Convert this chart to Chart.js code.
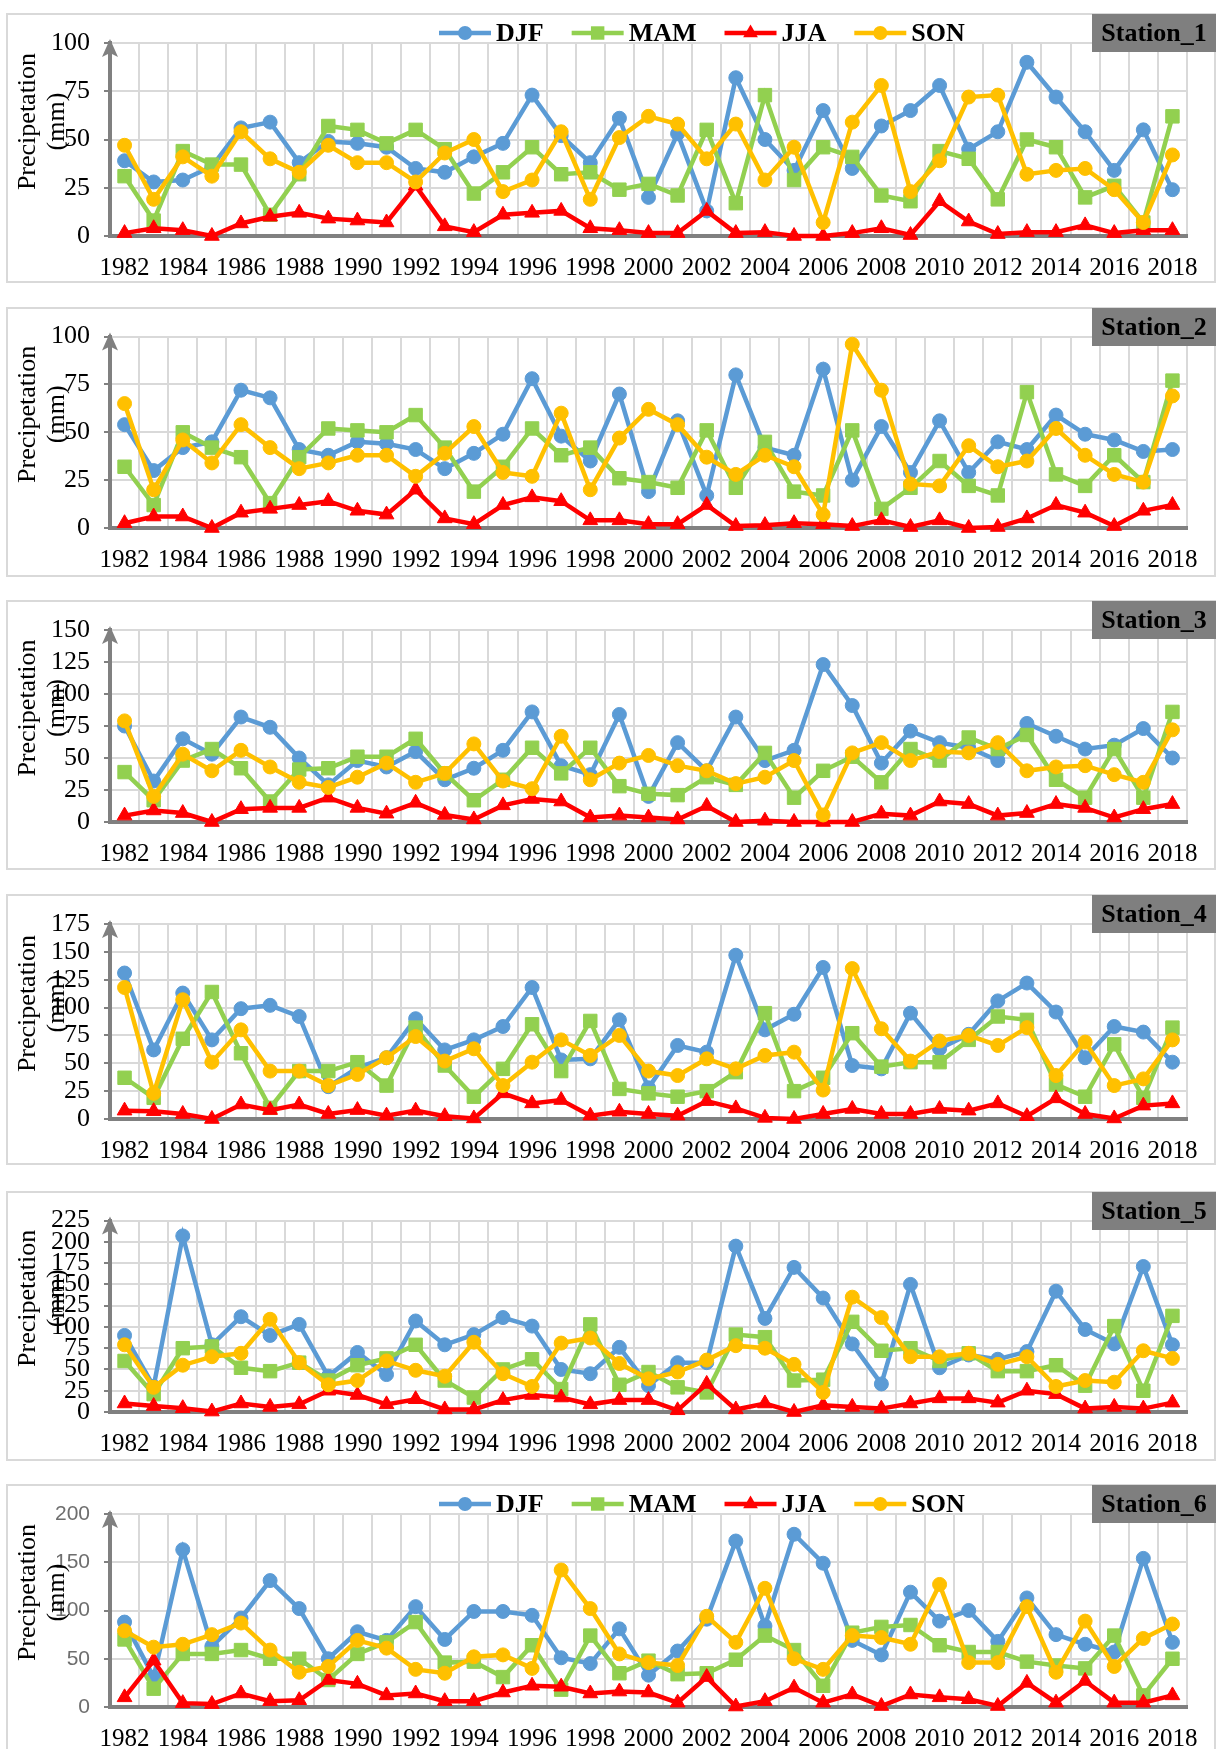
<!DOCTYPE html>
<html lang="en">
<head>
<meta charset="utf-8">
<title>Seasonal precipitation by station, 1982–2018</title>
<script src="https://cdn.jsdelivr.net/npm/chart.js@4.4.1/dist/chart.umd.min.js"></script>
<style>
  html, body { margin: 0; padding: 0; background: #fff; }
  body { position: relative; width: 1217px; height: 1749px; overflow: hidden; }
  .frame { position: absolute; left: 6px; width: 1210px; box-sizing: border-box; border: 2px solid #d9d9d9; }
  canvas.panel { position: absolute; left: 6px; }
</style>
</head>
<body>
<script>
// ---------- data ----------
const years = ['1982','1983','1984','1985','1986','1987','1988','1989','1990','1991',
  '1992','1993','1994','1995','1996','1997','1998','1999','2000','2001','2002','2003',
  '2004','2005','2006','2007','2008','2009','2010','2011','2012','2013','2014','2015',
  '2016','2017','2018'];
const seasons = ['DJF', 'MAM', 'JJA', 'SON'];
const stationNames = ['Station_1', 'Station_2', 'Station_3', 'Station_4', 'Station_5', 'Station_6'];
const yAxisMax = [100, 100, 150, 175, 225, 200];
const yAxisStep = [25, 25, 25, 25, 25, 50];

// Station_1 (mm)
const st1DJF = [39,28,29,36,56,59,38,49,48,46,35,33,41,48,73,52,38,61,20,53,13,82,50,34,65,35,57,65,78,45,54,90,72,54,34,55,24];
const st1MAM = [31,8,44,37,37,11,32,57,55,48,55,45,22,33,46,32,33,24,27,21,55,17,73,29,46,41,21,18,44,40,19,50,46,20,26,7,62];
const st1JJA = [1.5,4,3,0,6.5,10,12,9,8,7,26,5,2,11,12,13,4,3,1.5,1.5,13,1.5,2,0,0,1.5,4,0.5,18,7.5,1,2,2,5.5,1.5,3,3];
const st1SON = [47,19,41,31,54,40,33,47,38,38,28,43,50,23,29,54,19,51,62,58,40,58,29,46,7,59,78,23,39,72,73,32,34,35,24,7,42];

// Station_2 (mm)
const st2DJF = [54,30,42,45,72,68,41,38,45,44,41,31,39,49,78,48,35,70,19,56,17,80,42,38,83,25,53,29,56,29,45,41,59,49,46,40,41];
const st2MAM = [32,12,50,42,37,13,37,52,51,50,59,42,19,32,52,38,42,26,24,21,51,21,45,19,17,51,10,21,35,22,17,71,28,22,38,24,77];
const st2JJA = [2.5,6,6,0,8,10,12,14,9,7,20,5,2,12,16,14,4,4,2,2,12,1,1.5,2.5,2,1,4,0.5,4,0,0.5,5,12,8,1,9,12];
const st2SON = [65,20,46,34,54,42,31,34,38,38,27,39,53,29,27,60,20,47,62,54,37,28,38,32,7,96,72,23,22,43,32,35,52,38,28,24,69];

// Station_3 (mm)
const st3DJF = [75,32,65,53,82,74,50,29,48,43,55,33,42,56,86,44,37,84,20,62,40,82,48,56,123,91,46,71,62,58,48,77,67,57,60,73,50];
const st3MAM = [39,17,48,57,42,16,41,42,51,51,65,38,17,33,58,38,58,28,22,21,35,29,54,19,40,51,31,57,48,66,57,68,33,19,57,19,86];
const st3JJA = [5,9,7,0,10,11,11,19,11,6.5,15,5.5,2,13,18,16,3.5,5,3.5,2,12.5,0,1,0,0,0,6.5,5,16,14,5,7,14,11,3.5,10,14];
const st3SON = [79,20,53,40,56,43,31,27,35,46,31,38,61,32,26,67,33,46,52,44,40,30,35,48,5.5,54,62,48,55,54,62,40,43,44,37,31,72];

// Station_4 (mm)
const st4DJF = [131,62,113,71,99,102,92,29,46,55,90,62,71,83,118,53,54,89,28,66,60,147,80,94,136,48,45,95,63,76,106,122,96,55,83,78,51];
const st4MAM = [37,19,72,114,59,10,43,43,51,30,82,48,20,45,85,43,88,27,23,20,25,42,95,25,37,77,47,51,51,71,92,89,31,20,67,19,82];
const st4JJA = [7.5,7,4.5,0,13,8,13,4.5,8,3,7.5,2.5,0.5,23,14,17,3,6.5,4.5,3,16,9.5,1,0,4.5,9,4.5,4.5,9,7.5,14,2.5,18.5,4.5,0.5,12,14];
const st4SON = [118,23,107,51,80,43,43,30,40,55,74,52,63,30,51,71,57,75,43,39,54,45,57,60,26,135,81,52,70,75,66,82,39,69,30,36,71];

// Station_5 (mm)
const st5DJF = [90,30,207,79,112,90,103,42,70,44,107,79,91,111,101,50,45,76,31,58,58,195,110,170,134,80,33,150,52,67,62,71,142,97,80,171,79];
const st5MAM = [60,21,75,77,52,48,58,37,55,63,79,37,17,50,62,27,103,32,47,29,23,91,88,37,38,106,72,75,60,69,48,48,55,31,101,25,113];
const st5JJA = [10,7,4.5,0.5,10,6,9,25,20,9,15,3,3,14,20,17,9,14,14,2,33,3,10,0,8,6,4,10,16,16,11,25,21,4,6,4,11];
const st5SON = [79,29,55,65,69,109,58,32,37,60,49,42,82,45,30,81,87,57,39,47,61,78,75,56,23,135,111,65,65,69,56,65,30,37,35,72,63];

// Station_6 (mm)
const st6DJF = [88,31,163,63,92,131,102,50,78,69,104,70,99,99,95,51,45,81,33,58,91,172,84,179,149,69,54,119,89,100,68,113,75,65,57,154,67];
const st6MAM = [70,19,55,55,59,50,50,28,55,67,88,46,47,31,64,18,74,35,48,34,35,49,74,59,22,77,83,85,64,57,57,47,43,40,74,12,50];
const st6JJA = [10,48,4,3,14,6,7,28,24,12,14,6,6,15,22,21,14,16,15,4.5,31,0.5,6,20,4.5,13,1,13,10,8,1,25,4.5,27,4.5,4.5,12];
const st6SON = [79,62,65,75,87,59,36,42,69,61,39,35,52,54,40,142,102,55,46,43,94,67,123,50,39,74,72,65,127,46,46,104,36,89,42,71,86];

const stationSeries = [
  [st1DJF, st1MAM, st1JJA, st1SON],
  [st2DJF, st2MAM, st2JJA, st2SON],
  [st3DJF, st3MAM, st3JJA, st3SON],
  [st4DJF, st4MAM, st4JJA, st4SON],
  [st5DJF, st5MAM, st5JJA, st5SON],
  [st6DJF, st6MAM, st6JJA, st6SON]
];

// ---------- look & layout ----------
const seasonColors = ['#5b9bd5', '#92d050', '#ff0000', '#ffc000'];
const seasonMarkers = ['circle', 'rect', 'triangle', 'circle'];
const markerRadius = [7, 9.5, 8.5, 7];
const frameTops = [13, 307, 600, 894, 1191, 1484];
const frameHeights = [270, 270, 270, 271, 270, 275];
const plotTops = [30, 28, 30, 30, 29, 30];
const plotBottoms = [223, 221, 222, 225, 221, 223];
const panelsWithLegend = [0, 5];
const serif = '"Liberation Serif", "Times New Roman", serif';

function drawMarker(ctx, style, x, y, r) {
  ctx.beginPath();
  if (style === 'circle') {
    ctx.arc(x, y, r, 0, Math.PI * 2);
  } else if (style === 'rect') {
    const s = r * Math.SQRT1_2;
    ctx.rect(x - s, y - s, 2 * s, 2 * s);
  } else {
    let a = 0;
    ctx.moveTo(x + Math.sin(a) * r, y - Math.cos(a) * r);
    a += 2 * Math.PI / 3;
    ctx.lineTo(x + Math.sin(a) * r, y - Math.cos(a) * r);
    a += 2 * Math.PI / 3;
    ctx.lineTo(x + Math.sin(a) * r, y - Math.cos(a) * r);
    ctx.closePath();
  }
  ctx.fill();
}

// Axis arrow, axis title, station tag and the line+marker legend.
const panelDecor = {
  id: 'panelDecor',
  afterDraw(chart, args, o) {
    const { ctx, chartArea: a } = chart;
    ctx.save();

    ctx.fillStyle = '#808080';
    ctx.beginPath();
    ctx.moveTo(a.left, a.top - 4);
    ctx.lineTo(a.left + 8, a.top + 14);
    ctx.lineTo(a.left, a.top + 10);
    ctx.lineTo(a.left - 8, a.top + 14);
    ctx.closePath();
    ctx.fill();

    const cy = (a.top + a.bottom) / 2 - 18;
    ctx.fillStyle = '#000';
    ctx.font = '26px ' + serif;
    ctx.textAlign = 'center';
    ctx.textBaseline = 'middle';
    [['Precipetation', 22], ['(mm)', 51]].forEach(([t, x]) => {
      ctx.save();
      ctx.translate(x, cy);
      ctx.rotate(-Math.PI / 2);
      ctx.fillText(t, 0, 0);
      ctx.restore();
    });

    const w = chart.width;
    ctx.fillStyle = '#7f7f7f';
    ctx.fillRect(w - 124, 1, 124, 38);
    ctx.fillStyle = '#000';
    ctx.font = 'bold 26px ' + serif;
    ctx.fillText(o.station, w - 62, 21);

    if (o.legend) {
      let x = 433;
      const y = 20;
      ctx.textAlign = 'left';
      chart.data.datasets.forEach(ds => {
        ctx.strokeStyle = ds.borderColor;
        ctx.lineWidth = 4.5;
        ctx.beginPath();
        ctx.moveTo(x, y);
        ctx.lineTo(x + 52, y);
        ctx.stroke();
        ctx.fillStyle = ds.borderColor;
        drawMarker(ctx, ds.pointStyle, x + 26, y, ds.pointRadius);
        x += 57;
        ctx.fillStyle = '#000';
        ctx.fillText(ds.label, x, y + 1);
        x += ctx.measureText(ds.label).width + 28;
      });
    }
    ctx.restore();
  }
};

stationSeries.forEach((series, p) => {
  const frame = document.createElement('div');
  frame.className = 'frame';
  frame.style.top = frameTops[p] + 'px';
  frame.style.height = frameHeights[p] + 'px';
  document.body.appendChild(frame);

  const cv = document.createElement('canvas');
  cv.className = 'panel';
  cv.width = 1210;
  cv.height = frameHeights[p];
  cv.style.width = '1210px';
  cv.style.height = frameHeights[p] + 'px';
  cv.style.top = frameTops[p] + 'px';
  document.body.appendChild(cv);

  const sansTicks = p === 5;
  const xHeight = frameHeights[p] - plotBottoms[p];

  new Chart(cv, {
    type: 'line',
    data: {
      labels: years,
      datasets: series.map((vals, i) => ({
        label: seasons[i],
        data: vals,
        borderColor: seasonColors[i],
        backgroundColor: seasonColors[i],
        pointBackgroundColor: seasonColors[i],
        pointBorderColor: seasonColors[i],
        borderWidth: 4.5,
        pointStyle: seasonMarkers[i],
        pointRadius: markerRadius[i],
        pointHoverRadius: markerRadius[i],
        pointBorderWidth: 1,
        tension: 0,
        fill: false,
        clip: false,
        order: 4 - i
      }))
    },
    options: {
      responsive: false,
      animation: false,
      devicePixelRatio: 1,
      events: [],
      layout: { padding: { left: 0, top: plotTops[p], right: 29, bottom: 0 } },
      plugins: {
        legend: { display: false },
        tooltip: { enabled: false },
        panelDecor: { station: stationNames[p], legend: panelsWithLegend.includes(p) }
      },
      scales: {
        x: {
          type: 'category',
          offset: true,
          grid: { offset: true, color: '#d9d9d9', lineWidth: 2, drawTicks: false },
          border: { display: true, color: '#808080', width: 4 },
          ticks: {
            autoSkip: false, maxRotation: 0, minRotation: 0, padding: 17,
            color: '#000', font: { family: serif, size: 25 },
            callback: function (v, i) { return i % 2 === 0 ? this.getLabelForValue(v) : ''; }
          },
          afterFit: s => { s.height = xHeight; }
        },
        y: {
          min: 0,
          max: yAxisMax[p],
          grid: { color: '#d9d9d9', lineWidth: 2, tickLength: 6, tickColor: '#808080', tickWidth: 2 },
          border: { display: true, color: '#808080', width: 4 },
          ticks: {
            stepSize: yAxisStep[p], autoSkip: false, padding: 14,
            color: sansTicks ? '#6e6e6e' : '#000',
            font: sansTicks ? { family: '"Liberation Sans", Arial, sans-serif', size: 21 }
                            : { family: serif, size: 26 }
          },
          afterFit: s => { s.width = 104; }
        }
      }
    },
    plugins: [panelDecor]
  });
});
</script>
</body>
</html>
